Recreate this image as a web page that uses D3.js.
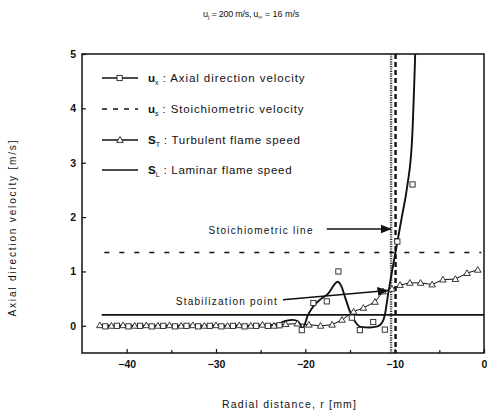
<!DOCTYPE html>
<html><head><meta charset="utf-8">
<script src="https://cdn.jsdelivr.net/npm/d3@7"></script>
<style>body{margin:0;background:#fff}svg{display:block}text{font-family:"Liberation Sans",Arial,sans-serif;fill:#111}</style>
</head><body><div id="chart"></div>
<script>
// ---------- data ----------
const xTicks = [-40, -30, -20, -10, 0];
const xMinorTicks = [-35, -25, -15, -5];
const yTicks = [0, 1, 2, 3, 4, 5];

// Turbulent flame speed S_T (triangles)
const stR = [-43,-41.7,-40.4,-39.1,-37.8,-36.5,-35.2,-33.9,-32.6,-31.3,-30,-28.7,-27.4,-26.1,-24.8,-23.5,-22.2,-20.9,-19.6,-18.3,-17.0,-15.9,-14.6,-13.5,-12.2,-11.3,-10.3,-9.4,-8.3,-7.1,-5.8,-4.6,-3.2,-1.9,-0.7];
const stV = [0.01,0.0,0.01,0.0,0.01,0.0,0.01,0.0,0.01,0.0,0.01,0.0,0.01,0.0,0.02,0.0,0.03,0.04,0.02,0.0,0.02,0.11,0.26,0.33,0.44,0.63,0.68,0.75,0.79,0.79,0.76,0.85,0.86,0.97,1.03];

// Axial direction velocity u_x : fitted curve
const uxFitR = [-43,-35,-28,-25,-23.2,-22.2,-21.4,-20.8,-20.3,-19.7,-19.0,-18.2,-17.4,-16.8,-16.4,-16.0,-15.5,-15.0,-14.4,-13.8,-12.8,-11.9,-11.4,-11.1,-10.7,-10.3,-9.8,-9.2,-8.6,-8.05,-7.7];
const uxFitV = [0,0,0,0,0.03,0.09,0.11,0.08,-0.04,0.2,0.38,0.5,0.6,0.75,0.81,0.74,0.5,0.26,0.07,-0.02,-0.03,-0.01,0.06,0.2,0.62,1.0,1.45,2.0,2.56,3.43,5.0];
// Axial direction velocity u_x : measured points (squares)
const uxR = [-42.4,-41.1,-39.8,-38.5,-37.2,-35.9,-34.6,-33.3,-32.0,-30.7,-29.4,-28.1,-26.8,-25.5,-24.2,-22.9,-20.4,-19.1,-17.6,-16.3,-14.8,-13.9,-12.4,-11.1,-9.7,-8.0];
const uxV = [-0.01,0.0,-0.01,0.0,-0.01,0.0,-0.01,0.0,-0.01,0.0,-0.01,0.0,-0.01,0.0,0.0,0.01,-0.08,0.42,0.45,1.0,0.15,-0.08,0.07,-0.07,1.55,2.6];

// Stoichiometric velocity u_s and laminar flame speed S_L
const usRange = [-42.5, -0.3], usValue = 1.35;
const slRange = [-42.8, 0], slValue = 0.2;
// vertical lines
const stoichLineR = -10.4;   // dotted
const usLineR = -9.9;        // dashed

const legendItems = [
  {sym: "u", sub: "x", label: " : Axial direction velocity", type: "square"},
  {sym: "u", sub: "s", label: " : Stoichiometric velocity", type: "dash"},
  {sym: "S", sub: "T", label: " : Turbulent flame speed", type: "triangle"},
  {sym: "S", sub: "L", label: " : Laminar flame speed", type: "line"}
];

// annotations (data coords)
const annStoich = {text: "Stoichiometric line", textR: -19.2, textV: 1.76, from: [-17.6, 1.78], to: [-10.45, 1.78]};
const annStab = {text: "Stabilization point", textR: -23.2, textV: 0.45, from: [-22.5, 0.48], to: [-10.8, 0.65]};

// ---------- layout ----------
const W = 487, H = 414;
const m = {l: 82, r: 3, t: 54, b: 61};
const svg = d3.select("#chart").append("svg").attr("width", W).attr("height", H);
const x = d3.scaleLinear().domain([-45, 0]).range([m.l, W - m.r]);
const y = d3.scaleLinear().domain([-0.5, 5]).range([H - m.b, m.t]);

const defs = svg.append("defs");
defs.append("clipPath").attr("id", "clip").append("rect")
  .attr("x", m.l).attr("y", m.t).attr("width", W - m.r - m.l).attr("height", H - m.b - m.t);
defs.append("marker").attr("id", "arr").attr("viewBox", "0 0 10 10").attr("refX", 9).attr("refY", 5)
  .attr("markerWidth", 7).attr("markerHeight", 7).attr("orient", "auto-start-reverse")
  .append("path").attr("d", "M0,1 L10,5 L0,9 z").attr("fill", "#111");

// helper: stretch text to a measured width
function fitWidth(sel, w) {
  sel.attr("textLength", w).attr("lengthAdjust", "spacing");
  return sel;
}

// title
const title = svg.append("text").attr("x", 203).attr("y", 17).attr("font-size", 9);
title.append("tspan").text("u");
title.append("tspan").attr("font-size", 6).attr("dy", 2).text("j");
fitWidth(title.append("tspan").attr("dy", -2).text(" = 200 m/s,  u"), 49);
title.append("tspan").attr("font-size", 6).attr("dy", 2).text("∞");
fitWidth(title.append("tspan").attr("dy", -2).text(" = 16 m/s"), 37);

// axes
const gx = svg.append("g").attr("transform", `translate(0,${H - m.b})`)
  .call(d3.axisBottom(x).tickValues(xTicks).tickSize(-4).tickPadding(8).tickFormat(d3.format("d")));
const gxm = svg.append("g").attr("transform", `translate(0,${H - m.b})`)
  .call(d3.axisBottom(x).tickValues(xMinorTicks).tickSize(-3).tickFormat(""));
const gy = svg.append("g").attr("transform", `translate(${m.l},0)`)
  .call(d3.axisLeft(y).tickValues(yTicks).tickSize(-4).tickPadding(6).tickFormat(d3.format("d")));
[gx, gxm, gy].forEach(g => {
  g.select(".domain").remove();
  g.selectAll("line").attr("stroke", "#111").attr("stroke-width", 1.2);
  g.selectAll("text").attr("font-size", 10.5).attr("font-weight", "bold").attr("fill", "#111")
   .attr("font-family", "'Liberation Sans',Arial,sans-serif");
});

// frame
svg.append("rect").attr("x", m.l).attr("y", m.t).attr("width", W - m.r - m.l).attr("height", H - m.b - m.t)
  .attr("fill", "none").attr("stroke", "#111").attr("stroke-width", 1.5);

// axis labels
fitWidth(svg.append("text").attr("x", 289).attr("y", 408).attr("text-anchor", "middle").attr("font-size", 10.5)
  .text("Radial distance,  r  [mm]"), 134);
fitWidth(svg.append("text").attr("transform", `translate(16,${(m.t + H - m.b) / 2 + 25}) rotate(-90)`)
  .attr("text-anchor", "middle").attr("font-size", 10).text("Axial direction velocity  [m/s]"), 176);

const plot = svg.append("g").attr("clip-path", "url(#clip)");

// vertical lines
plot.append("line").attr("x1", x(stoichLineR)).attr("x2", x(stoichLineR)).attr("y1", y(5)).attr("y2", y(-0.5))
  .attr("stroke", "#333").attr("stroke-width", 2.4).attr("stroke-dasharray", "1.2,1.2");
plot.append("line").attr("x1", x(usLineR)).attr("x2", x(usLineR)).attr("y1", y(5)).attr("y2", y(-0.5))
  .attr("stroke", "#111").attr("stroke-width", 2.4).attr("stroke-dasharray", "5,3");

// horizontal lines
plot.append("line").attr("x1", x(usRange[0])).attr("x2", x(usRange[1])).attr("y1", y(usValue)).attr("y2", y(usValue))
  .attr("stroke", "#111").attr("stroke-width", 1.5).attr("stroke-dasharray", "5,10");
plot.append("line").attr("x1", x(slRange[0])).attr("x2", x(slRange[1])).attr("y1", y(slValue)).attr("y2", y(slValue))
  .attr("stroke", "#111").attr("stroke-width", 1.7);

// S_T line
const line = d3.line().x(d => x(d[0])).y(d => y(d[1]));
const stData = stR.map((r, i) => [r, stV[i]]);
plot.append("path").datum(stData).attr("d", line).attr("fill", "none").attr("stroke", "#111").attr("stroke-width", 1);

// u_x fitted curve
const uxFit = uxFitR.map((r, i) => [r, uxFitV[i]]);
plot.append("path").datum(uxFit).attr("d", d3.line().x(d => x(d[0])).y(d => y(d[1])).curve(d3.curveMonotoneX))
  .attr("fill", "none").attr("stroke", "#111").attr("stroke-width", 1.9);

const triPath = "M0,-3.3 L3.3,2.4 L-3.3,2.4 Z";
plot.selectAll(".tri").data(stData).enter().append("path").attr("class", "tri")
  .attr("transform", d => `translate(${x(d[0])},${y(d[1])})`).attr("d", triPath)
  .attr("fill", "#fff").attr("stroke", "#222").attr("stroke-width", 0.9);

const uxData = uxR.map((r, i) => [r, uxV[i]]);
plot.selectAll(".sq").data(uxData).enter().append("rect").attr("class", "sq")
  .attr("x", d => x(d[0]) - 2.6).attr("y", d => y(d[1]) - 2.6).attr("width", 5.2).attr("height", 5.2)
  .attr("fill", "#fff").attr("stroke", "#222").attr("stroke-width", 0.9);

// annotations
function annotate(a, w) {
  fitWidth(svg.append("text").attr("x", x(a.textR) - w).attr("y", y(a.textV) + 3.5)
    .attr("font-size", 10).attr("fill", "#222").text(a.text), w);
  svg.append("line").attr("x1", x(a.from[0])).attr("y1", y(a.from[1])).attr("x2", x(a.to[0])).attr("y2", y(a.to[1]))
    .attr("stroke", "#111").attr("stroke-width", 1.6).attr("marker-end", "url(#arr)");
}
annotate(annStoich, 104);
annotate(annStab, 101);

// legend
const lg = svg.append("g");
const rowY = [78, 109, 140, 170];
const labelW = [146, 145, 140, 132];
legendItems.forEach((it, i) => {
  const g = lg.append("g").attr("transform", `translate(0,${rowY[i]})`);
  const ln = g.append("line").attr("x1", 102).attr("x2", 138).attr("y1", 0).attr("y2", 0)
    .attr("stroke", "#111").attr("stroke-width", 1.6);
  if (it.type === "dash") ln.attr("stroke-dasharray", "5,6").attr("stroke-width", 1.3);
  if (it.type === "square") g.append("rect").attr("x", 117).attr("y", -2.6).attr("width", 5.2).attr("height", 5.2)
    .attr("fill", "#fff").attr("stroke", "#222").attr("stroke-width", 0.9);
  if (it.type === "triangle") g.append("path").attr("transform", "translate(120,0)").attr("d", triPath)
    .attr("fill", "#fff").attr("stroke", "#222").attr("stroke-width", 0.9);
  const t = g.append("text").attr("x", 148).attr("y", 4).attr("font-size", 11.5);
  t.append("tspan").attr("font-weight", "bold").text(it.sym);
  t.append("tspan").attr("font-size", 7).attr("dy", 3).text(it.sub);
  fitWidth(t.append("tspan").attr("dy", -3).text(it.label), labelW[i]);
});
</script></body></html>
